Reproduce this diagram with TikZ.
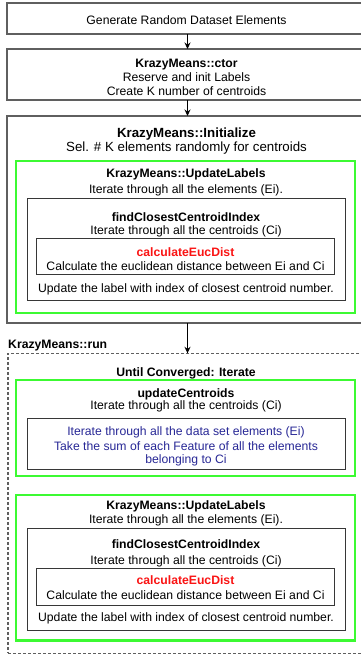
\documentclass[tikz,border=0pt]{standalone}
\usepackage{fontspec}
\setmainfont{Liberation Sans}
\usetikzlibrary{arrows.meta}
\definecolor{frameGray}{RGB}{95,95,95}
\definecolor{innerGray}{RGB}{55,55,55}
\definecolor{loopGreen}{RGB}{60,250,50}
\definecolor{featBlue}{RGB}{40,40,150}
\definecolor{hotRed}{RGB}{250,20,20}
\tikzset{
  frame/.style={draw=frameGray, line width=1.4pt, rectangle, inner sep=0pt, outer sep=0pt},
  loopbox/.style={draw=loopGreen, line width=2.6pt, rectangle, inner sep=0pt, outer sep=0pt},
  subbox/.style={draw=innerGray, line width=1pt, rectangle, inner sep=0pt, outer sep=0pt},
  runbox/.style={draw=frameGray, line width=1.2pt, dash pattern=on 3pt off 2pt, rectangle, inner sep=0pt, outer sep=0pt},
  txt/.style={inner sep=0pt, anchor=base, yshift=-1pt, font=\fontsize{12.2}{14}\selectfont},
  hdr/.style={txt, font=\fontsize{12.2}{14}\selectfont\bfseries},
  bigtxt/.style={inner sep=0pt, anchor=base, yshift=-1pt, font=\fontsize{13.3}{15}\selectfont},
  bighdr/.style={bigtxt, font=\fontsize{13.3}{15}\selectfont\bfseries},
  flow/.style={-{Stealth[length=6.5pt,width=6pt]}, line width=1.3pt, black},
}
\begin{document}
\begin{tikzpicture}[x=1pt, y=-1pt]
\useasboundingbox (0,0) rectangle (361,657);
\clip (0,0) rectangle (361,657);
\fill[white] (0,0) rectangle (361,657);

% ---- top-level steps ----
\node[frame, minimum width=359pt, minimum height=31pt] (gen) at (186.5,18.5) {};
\node[txt] (genT) at (186.5,23.6) {Generate Random Dataset Elements};

\node[frame, minimum width=359pt, minimum height=51pt] (ctor) at (186.5,74.5) {};
\node[hdr] (ctorH) at (186.5,66) {KrazyMeans::ctor};
\node[txt] (ctorA) at (186.5,80.3) {Reserve and init Labels};
\node[txt] (ctorB) at (186.5,94.3) {Create K number of centroids};

\node[frame, minimum width=359pt, minimum height=207pt] (init) at (186.5,219.5) {};
\node[bighdr] (initH) at (186.5,136.7) {KrazyMeans::Initialize};
\node[bigtxt] (initA) at (186.5,150.7) {Sel. \# K elements randomly for centroids};

% ---- UpdateLabels inside Initialize ----
\node[loopbox, minimum width=339pt, minimum height=152pt] (upd1) at (185.5,237) {};
\node[hdr] (upd1H) at (186,176.6) {KrazyMeans::UpdateLabels};
\node[txt] (upd1A) at (186,192.3) {Iterate through all the elements (Ei).};
\node[subbox, minimum width=318.7pt, minimum height=102.7pt] (fc1) at (186.35,249.35) {};
\node[hdr] (fc1H) at (186,220.3) {findClosestCentroidIndex};
\node[txt] (fc1A) at (186,233.3) {Iterate through all the centroids (Ci)};
\node[subbox, minimum width=298.7pt, minimum height=36.3pt] (ed1) at (185.35,256.15) {};
\node[hdr, text=hotRed] (ed1H) at (185.5,255) {calculateEucDist};
\node[txt] (ed1A) at (185.5,269.3) {Calculate the euclidean distance between Ei and Ci};
\node[txt] (fc1B) at (186,291) {Update the label with index of closest centroid number.};

% ---- run loop ----
\node[hdr, anchor=base west] (runH) at (8,347.6) {KrazyMeans::run};
\node[runbox, minimum width=358pt, minimum height=300pt] (run) at (187,503.3) {};
\node[hdr] (runA) at (186,375.3) {Until Converged: Iterate};

\node[loopbox, minimum width=339pt, minimum height=96pt] (cent) at (185.5,428) {};
\node[hdr] (centH) at (186,396) {updateCentroids};
\node[txt] (centA) at (186,408.6) {Iterate through all the centroids (Ci)};
\node[subbox, minimum width=318.7pt, minimum height=51pt] (sum) at (186.35,443.8) {};
\node[txt, text=featBlue] (sumA) at (186,434.3) {Iterate through all the data set elements (Ei)};
\node[txt, text=featBlue] (sumB) at (186,449.3) {Take the sum of each Feature of all the elements};
\node[txt, text=featBlue] (sumC) at (186,462) {belonging to Ci};

\node[loopbox, minimum width=339pt, minimum height=145.7pt] (upd2) at (185.5,567.85) {};
\node[hdr] (upd2H) at (186,508.6) {KrazyMeans::UpdateLabels};
\node[txt] (upd2A) at (186,522.6) {Iterate through all the elements (Ei).};
\node[subbox, minimum width=318.7pt, minimum height=102.4pt] (fc2) at (186.35,579.5) {};
\node[hdr] (fc2H) at (186,547.6) {findClosestCentroidIndex};
\node[txt] (fc2A) at (186,563.3) {Iterate through all the centroids (Ci)};
\node[subbox, minimum width=298.7pt, minimum height=36.7pt] (ed2) at (185.35,586.65) {};
\node[hdr, text=hotRed] (ed2H) at (185.5,583.6) {calculateEucDist};
\node[txt] (ed2A) at (185.5,598.6) {Calculate the euclidean distance between Ei and Ci};
\node[txt] (fc2B) at (186,620.3) {Update the label with index of closest centroid number.};

% ---- flow arrows ----
\coordinate (genS) at (187.5,34);
\coordinate (ctorN) at (187.5,49);
\coordinate (ctorS) at (187.5,100);
\coordinate (initN) at (187.5,116);
\coordinate (initS) at (187.5,323);
\coordinate (runN) at (187.5,353.3);
\draw[flow] (genS) -- (ctorN);
\draw[flow] (ctorS) -- (initN);
\draw[flow] (initS) -- (runN);
\end{tikzpicture}
\end{document}
